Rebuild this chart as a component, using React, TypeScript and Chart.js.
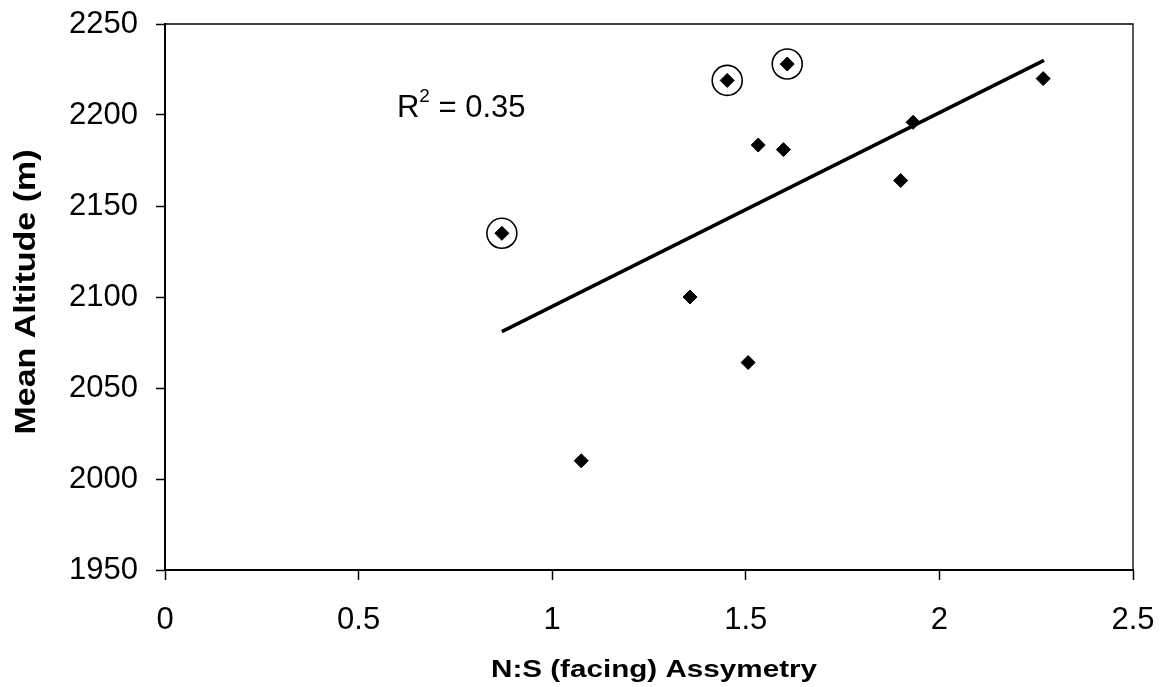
import React, { useEffect, useRef } from "react";
import { Chart, registerables } from "chart.js";

Chart.register(...registerables);

const asymmetry = [0.87, 1.075, 1.356, 1.452, 1.506, 1.532, 1.597, 1.607, 1.9, 1.932, 2.268];
const altitude = [2135, 2010, 2100, 2219, 2064, 2183.5, 2181, 2228, 2164, 2196, 2220];
const circledX = [0.87, 1.452, 1.607];
const circledY = [2135, 2219, 2228];
const trendX = [0.87, 2.27];
const trendY = [2081, 2230];
const xTicks = [0, 0.5, 1, 1.5, 2, 2.5];
const yTicks = [1950, 2000, 2050, 2100, 2150, 2200, 2250];
const xTitle = "N:S (facing) Assymetry";
const yTitle = "Mean Altitude (m)";
const r2Label = "R² = 0.35";
const r2Pos = { x: 0.765, y: 2203.5 };

const FONT = "'Liberation Sans', Arial, sans-serif";

export default function App() {
  const ref = useRef<HTMLCanvasElement | null>(null);
  useEffect(() => {
    document.body.style.margin = "0";
    const canvas = ref.current;
    if (!canvas) return;

    const framePlugin = {
      id: "frame",
      afterDatasetsDraw(chart: any) {
        const { ctx, chartArea, scales } = chart;
        ctx.save();
        ctx.strokeStyle = "#000";
        ctx.lineWidth = 1.3;
        ctx.beginPath();
        ctx.moveTo(chartArea.left, chartArea.top);
        ctx.lineTo(chartArea.right, chartArea.top);
        ctx.lineTo(chartArea.right, chartArea.bottom);
        ctx.stroke();

        // R^2 label
        const px = scales.x.getPixelForValue(r2Pos.x);
        const py = scales.y.getPixelForValue(r2Pos.y);
        ctx.fillStyle = "#000";
        ctx.textBaseline = "middle";
        const big = `31px ${FONT}`;
        const small = `19px ${FONT}`;
        const parts = r2Label.split("²");
        ctx.font = big;
        const w1 = ctx.measureText(parts[0]).width;
        ctx.font = small;
        const w2 = ctx.measureText("2").width;
        ctx.font = big;
        const w3 = ctx.measureText(parts[1]).width;
        const x0 = px - (w1 + w2 + w3) / 2;
        ctx.textAlign = "left";
        ctx.fillText(parts[0], x0, py);
        ctx.font = small;
        ctx.fillText("2", x0 + w1, py - 12);
        ctx.font = big;
        ctx.fillText(parts[1], x0 + w1 + w2, py);

        // X axis title (stretched horizontally like the reference)
        ctx.font = `bold 23px ${FONT}`;
        ctx.textAlign = "center";
        ctx.textBaseline = "alphabetic";
        const xw = ctx.measureText(xTitle).width;
        const sx = 326 / xw;
        ctx.save();
        ctx.translate(654, 677);
        ctx.scale(sx, 1);
        ctx.fillText(xTitle, 0, 0);
        ctx.restore();

        // Y axis title
        ctx.font = `bold 30px ${FONT}`;
        const yw = ctx.measureText(yTitle).width;
        const sy = 285 / yw;
        ctx.save();
        ctx.translate(35, 292);
        ctx.rotate(-Math.PI / 2);
        ctx.scale(sy, 1);
        ctx.fillText(yTitle, 0, 0);
        ctx.restore();

        ctx.restore();
      },
    };

    const chart = new Chart(canvas, {
      type: "scatter",
      data: {
        datasets: [
          {
            label: "Trend",
            data: trendX.map((x, i) => ({ x, y: trendY[i] })),
            showLine: true,
            borderColor: "#000",
            borderWidth: 3.5,
            pointRadius: 0,
            order: 3,
          },
          {
            label: "Circled",
            data: circledX.map((x, i) => ({ x, y: circledY[i] })),
            pointStyle: "circle",
            pointRadius: 15,
            pointBorderWidth: 1.6,
            pointBorderColor: "#000",
            pointBackgroundColor: "rgba(0,0,0,0)",
            order: 2,
          },
          {
            label: "Data",
            data: asymmetry.map((x, i) => ({ x, y: altitude[i] })),
            pointStyle: "rectRot",
            pointRadius: 7,
            pointBorderWidth: 1,
            pointBorderColor: "#000",
            pointBackgroundColor: "#000",
            order: 1,
          },
        ],
      },
      options: {
        animation: false,
        responsive: false,
        maintainAspectRatio: false,
        layout: { padding: { top: 24, right: 29, left: 0, bottom: 0 } },
        plugins: {
          legend: { display: false },
          tooltip: { enabled: false },
        },
        scales: {
          x: {
            type: "linear",
            min: 0,
            max: 2.5,
            afterBuildTicks: (s: any) => {
              s.ticks = xTicks.map((v) => ({ value: v }));
            },
            afterFit: (s: any) => {
              s.height = 117;
              s.paddingLeft = 0;
              s.paddingRight = 0;
            },
            grid: {
              display: true,
              drawOnChartArea: false,
              drawTicks: true,
              tickLength: 10,
              color: "#000",
              tickWidth: 1.5,
            },
            border: { display: true, color: "#000", width: 2 },
            ticks: {
              color: "#000",
              font: { family: FONT, size: 31 },
              padding: 22,
              maxRotation: 0,
              callback: (v: any) => String(v),
            },
            title: { display: false },
          },
          y: {
            type: "linear",
            min: 1950,
            max: 2250,
            afterBuildTicks: (s: any) => {
              s.ticks = yTicks.map((v) => ({ value: v }));
            },
            afterFit: (s: any) => {
              s.width = 165;
              s.paddingTop = 0;
              s.paddingBottom = 0;
            },
            grid: {
              display: true,
              drawOnChartArea: false,
              drawTicks: true,
              tickLength: 9,
              color: "#000",
              tickWidth: 1.5,
            },
            border: { display: true, color: "#000", width: 2 },
            ticks: {
              color: "#000",
              font: { family: FONT, size: 31 },
              padding: 18,
              callback: (v: any) => String(v),
            },
            title: { display: false },
          },
        },
      },
      plugins: [framePlugin],
    } as any);
    return () => chart.destroy();
  }, []);

  return (
    <div style={{ width: 1162, height: 687, background: "#fff" }}>
      <canvas ref={ref} width={1162} height={687} style={{ display: "block" }} />
    </div>
  );
}
